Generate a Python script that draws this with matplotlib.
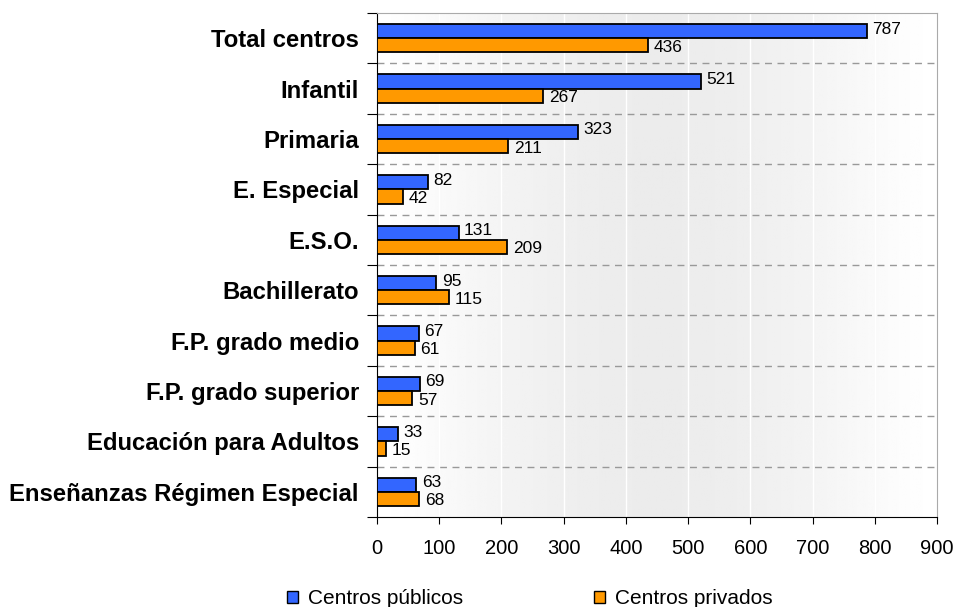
import matplotlib.pyplot as plt
import numpy as np
from matplotlib.patches import Patch

plt.rcParams['font.family'] = ['Liberation Sans', 'DejaVu Sans']

# datos
categorias = ['Total centros', 'Infantil', 'Primaria', 'E. Especial', 'E.S.O.',
              'Bachillerato', 'F.P. grado medio', 'F.P. grado superior',
              'Educación para Adultos', 'Enseñanzas Régimen Especial']
publicos = [787, 521, 323, 82, 131, 95, 67, 69, 33, 63]
privados = [436, 267, 211, 42, 209, 115, 61, 57, 15, 68]
series = ['Centros públicos', 'Centros privados']

col_pub = '#3366FF'
col_priv = '#FF9900'

fig = plt.figure(figsize=(9.58, 6.07), dpi=100)
ax = fig.add_axes([377/958, 1 - 517/607, 560/958, 504/607])

n = len(categorias)
y = np.arange(n)
h = 0.28

# fondo degradado: blanco -> gris -> blanco
t = np.linspace(0, 1, 256)
g = 1 - 0.075 * np.sin(np.pi * t) ** 1.2
grad = np.tile(g, (2, 1))
ax.imshow(grad, cmap='gray', vmin=0, vmax=1, aspect='auto',
          extent=[0, 900, n - 0.5, -0.5], zorder=0)

b1 = ax.barh(y - h/2, publicos, h, color=col_pub, edgecolor='black', linewidth=1.3, zorder=3)
b2 = ax.barh(y + h/2, privados, h, color=col_priv, edgecolor='black', linewidth=1.3, zorder=3)

for bar, v in zip(b1, publicos):
    ax.text(bar.get_width() + 9, bar.get_y() + bar.get_height()/2 - 0.04, str(v),
            va='center', ha='left', fontsize=12.5, zorder=4)
for bar, v in zip(b2, privados):
    ax.text(bar.get_width() + 9, bar.get_y() + bar.get_height()/2 + 0.04, str(v),
            va='center', ha='left', fontsize=12.5, zorder=4)

ax.set_xlim(0, 900)
ax.set_ylim(n - 0.5, -0.5)
ax.set_xticks(np.arange(0, 901, 100))
ax.tick_params(axis='x', labelsize=14.5, direction='out', length=5, pad=11)

# categorias en eje y, ticks en los limites
ax.set_yticks(np.arange(n + 1) - 0.5)
ax.set_yticklabels([])
ax.set_yticks(y, minor=True)
ax.set_yticklabels(categorias, minor=True, fontsize=17.2, fontweight='bold')
ax.tick_params(axis='y', which='minor', length=0, pad=13)
ax.tick_params(axis='y', which='major', direction='out', length=7)

for yy in np.arange(1, n) - 0.5:
    ax.axhline(yy, color='#999999', linestyle=(0, (5, 4)), linewidth=1, zorder=1)
for xx in np.arange(100, 900, 100):
    ax.axvline(xx, color='white', linewidth=1, zorder=1)

ax.spines['top'].set_color('#AAAAAA')
ax.spines['right'].set_color('#AAAAAA')
ax.spines['left'].set_color('black')
ax.spines['bottom'].set_color('black')

handles = [Patch(facecolor=col_pub, edgecolor='black'),
           Patch(facecolor=col_priv, edgecolor='black')]
fig.legend(handles, series, loc='center', ncol=2, frameon=False,
           fontsize=15, bbox_to_anchor=(530/958, 1 - 599/607), columnspacing=6.3,
           handlelength=0.5, handleheight=0.5, handletextpad=0.5, borderpad=0)

fig.savefig('out.png', dpi=100)
